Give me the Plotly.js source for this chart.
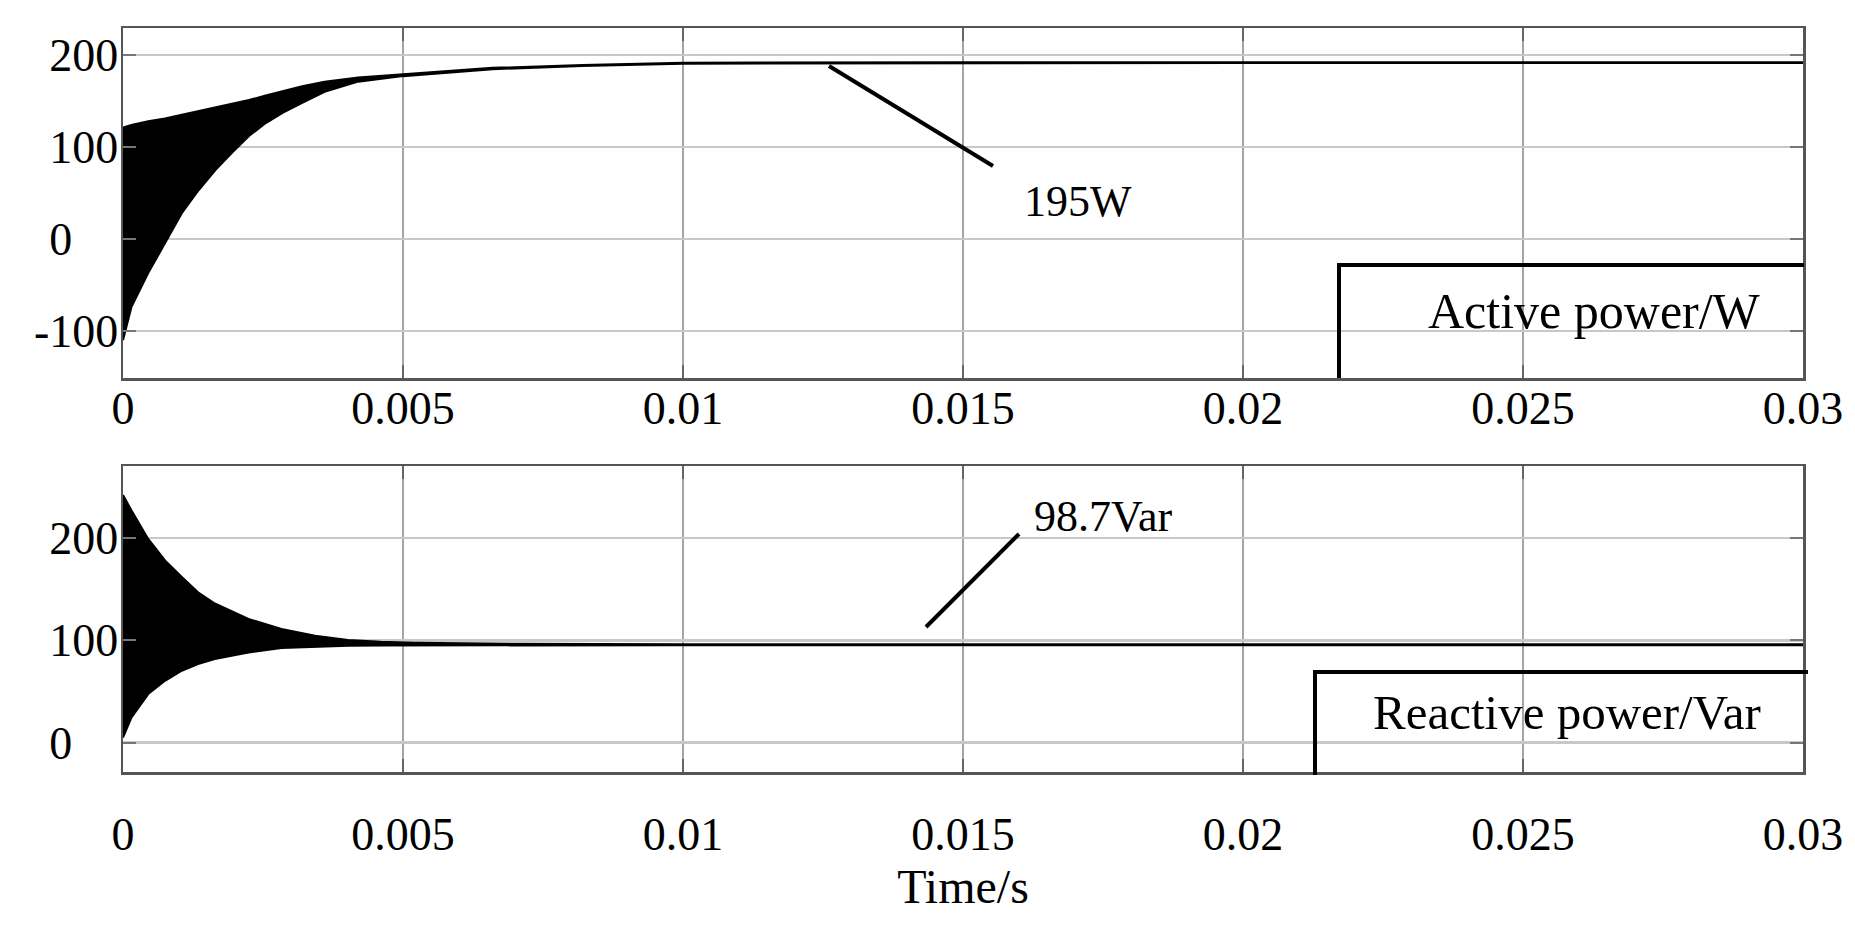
<!DOCTYPE html>
<html>
<head>
<meta charset="utf-8">
<script src="https://cdn.plot.ly/plotly-3.0.1.min.js"></script>
<style>
html,body{margin:0;padding:0;background:#fff;}
#chart{width:1855px;height:930px;}
</style>
</head>
<body>
<div id="chart"></div>
<script>
// ---- Data ----
// Active power: envelope of the fast oscillation (W)
const activeT     = [0, 0.00015, 0.00045, 0.00075, 0.00105, 0.00135, 0.00165, 0.00195, 0.00225, 0.00255, 0.00285, 0.0032, 0.0036, 0.0042, 0.005, 0.0066, 0.0082, 0.01, 0.015, 0.02, 0.03];
const activeUpper = [121, 124, 128, 131, 135, 139, 143, 147, 151, 156, 161, 166, 171, 175.5, 179, 186, 189, 191.5, 192.2, 192.2, 192.2];
const activeLower = [-110, -74, -37, -5, 28, 53, 75, 94, 112, 126, 137, 148, 160, 171, 177, 184.5, 188, 190.5, 191.2, 191.2, 191.2];

// Reactive power: envelope of the fast oscillation (Var)
const reactT     = [0, 0.00015, 0.00045, 0.00075, 0.00105, 0.00134, 0.00164, 0.00224, 0.00283, 0.00343, 0.00402, 0.0046, 0.0052, 0.007, 0.01, 0.02, 0.03];
const reactUpper = [242, 227, 199, 178, 162, 147, 136, 121, 111, 104.6, 100.4, 98.7, 97.7, 96.6, 96.2, 96.2, 96.2];
const reactLower = [5, 24.5, 47.5, 60.5, 70.3, 76.9, 81.8, 88.2, 92.5, 94, 94.8, 95, 95.1, 95.2, 95.2, 95.2, 95.2];

// Axis ticks
const xTicks      = [0, 0.005, 0.01, 0.015, 0.02, 0.025, 0.03];
const xTickText   = ['0', '0.005', '0.01', '0.015', '0.02', '0.025', '0.03'];
const yTicksTop   = [-100, 0, 100, 200];
const yTextTop    = ['-100', '0\u2002\u2002', '100', '200'];
const yTicksBot   = [0, 100, 200];
const yTextBot    = ['0\u2002\u2002', '100', '200'];

// Labels
const activeLabel = 'Active power/W';
const reactLabel  = 'Reactive power/Var';
const activeValue = '195W';
const reactValue  = '98.7Var';
const xTitle      = 'Time/s';

// ---- Drawing ----
const W = 1855, H = 930;
const px = v => v / W;
const py = v => 1 - v / H;
const FONT = 'Liberation Serif, Times New Roman, serif';

const traces = [
  {x: activeT, y: activeLower, xaxis: 'x', yaxis: 'y', mode: 'lines', line: {color: '#000', width: 2}, hoverinfo: 'skip', showlegend: false},
  {x: activeT, y: activeUpper, xaxis: 'x', yaxis: 'y', mode: 'lines', line: {color: '#000', width: 2}, fill: 'tonexty', fillcolor: '#000', hoverinfo: 'skip', showlegend: false},
  {x: reactT, y: reactLower, xaxis: 'x2', yaxis: 'y2', mode: 'lines', line: {color: '#000', width: 2}, hoverinfo: 'skip', showlegend: false},
  {x: reactT, y: reactUpper, xaxis: 'x2', yaxis: 'y2', mode: 'lines', line: {color: '#000', width: 2}, fill: 'tonexty', fillcolor: '#000', hoverinfo: 'skip', showlegend: false}
];

const xDomain = [px(123), px(1803)];
function xAxis(anchor, standoff) {
  return {
    domain: xDomain, anchor: anchor, range: [0, 0.03],
    tickmode: 'array', tickvals: xTicks, ticktext: xTickText,
    showgrid: true, gridcolor: '#a4a4a4', gridwidth: 2, zeroline: false,
    showline: true, linecolor: '#555', linewidth: 2.5, mirror: 'ticks',
    ticks: 'inside', ticklen: 13, tickwidth: 2, tickcolor: '#666',
    tickfont: {family: FONT, size: 46, color: '#000'},
    ticklabelstandoff: standoff, fixedrange: true
  };
}
function yAxis(anchor, domain, range, vals, text) {
  return {
    domain: domain, anchor: anchor, range: range,
    tickmode: 'array', tickvals: vals, ticktext: text,
    showgrid: true, gridcolor: '#c8c8c8', gridwidth: 2.5, zeroline: false,
    showline: true, linecolor: '#555', linewidth: 2.5, mirror: 'ticks',
    ticks: 'inside', ticklen: 13, tickwidth: 2, tickcolor: '#777',
    tickfont: {family: FONT, size: 46, color: '#000'},
    ticklabelstandoff: -7, fixedrange: true
  };
}

const layout = {
  width: W, height: H, autosize: false,
  margin: {l: 0, r: 0, t: 0, b: 0, pad: 0},
  paper_bgcolor: '#fff', plot_bgcolor: '#fff',
  showlegend: false,
  xaxis: xAxis('y', -12),
  yaxis: yAxis('x', [py(378), py(28)], [-151, 229.3], yTicksTop, yTextTop),
  xaxis2: Object.assign(xAxis('y2', 20), {title: {text: xTitle, font: {family: FONT, size: 48, color: '#000'}, standoff: 0}}),
  yaxis2: yAxis('x2', [py(772), py(466)], [-28.6, 270.3], yTicksBot, yTextBot),
  shapes: [
    // Active power label box
    {type: 'line', xref: 'paper', yref: 'paper', x0: px(1339), y0: py(378), x1: px(1339), y1: py(265), line: {color: '#000', width: 4}},
    {type: 'line', xref: 'paper', yref: 'paper', x0: px(1337), y0: py(265), x1: px(1804), y1: py(265), line: {color: '#000', width: 4}},
    // Reactive power label box
    {type: 'line', xref: 'paper', yref: 'paper', x0: px(1315), y0: py(775), x1: px(1315), y1: py(672), line: {color: '#000', width: 4}},
    {type: 'line', xref: 'paper', yref: 'paper', x0: px(1313), y0: py(672), x1: px(1808), y1: py(672), line: {color: '#000', width: 4}},
    // leader lines
    {type: 'line', xref: 'paper', yref: 'paper', x0: px(829), y0: py(66), x1: px(993), y1: py(166), line: {color: '#000', width: 4}},
    {type: 'line', xref: 'paper', yref: 'paper', x0: px(926), y0: py(627), x1: px(1019), y1: py(534), line: {color: '#000', width: 4}}
  ],
  annotations: [
    {text: activeLabel, xref: 'paper', yref: 'paper', x: px(1594), y: py(311), xanchor: 'center', yanchor: 'middle', showarrow: false, font: {family: FONT, size: 50, color: '#000'}},
    {text: reactLabel, xref: 'paper', yref: 'paper', x: px(1567), y: py(712), xanchor: 'center', yanchor: 'middle', showarrow: false, font: {family: FONT, size: 49, color: '#000'}},
    {text: activeValue, xref: 'paper', yref: 'paper', x: px(1078), y: py(202), xanchor: 'center', yanchor: 'middle', showarrow: false, font: {family: FONT, size: 44, color: '#000'}},
    {text: reactValue, xref: 'paper', yref: 'paper', x: px(1103), y: py(516), xanchor: 'center', yanchor: 'middle', showarrow: false, font: {family: FONT, size: 44, color: '#000'}}
  ]
};

Plotly.newPlot('chart', traces, layout, {staticPlot: true, displayModeBar: false});
</script>
</body>
</html>
